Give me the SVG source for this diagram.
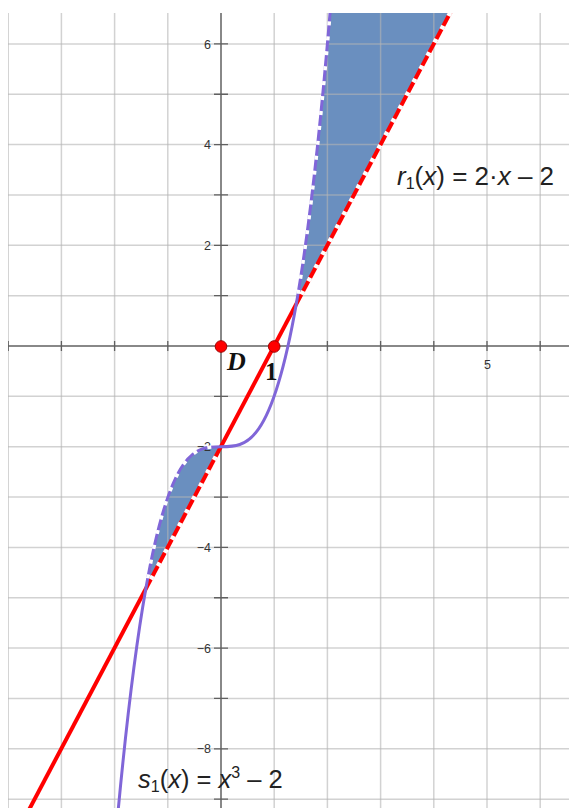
<svg xmlns="http://www.w3.org/2000/svg" width="569" height="808" viewBox="0 0 569 808">
<defs>
<clipPath id="plot"><rect x="8" y="13" width="561" height="795"/></clipPath>
<style>
.grid line{stroke:#b4b4b4;stroke-opacity:0.6;stroke-width:1.5}
.axis{stroke:#606060;stroke-width:1.5}
.tick{stroke:#606060;stroke-width:1.3}
.tl{font-family:"Liberation Sans",Arial,sans-serif;font-size:12.5px;fill:#333}
.fn{font-family:"Liberation Sans",Arial,sans-serif;fill:#222}
.it{font-style:italic}
.red{fill:none;stroke:#ff0000;stroke-width:4}
.pur{fill:none;stroke:#8066d8;stroke-width:3}
.wdash{fill:none;stroke:#ffffff;stroke-dasharray:4 11;stroke-dashoffset:4}
.area{fill:#6a8fbf}
.pt{fill:#ff0000;stroke:#a00000;stroke-width:1}
.pl{font-family:"Liberation Serif","Times New Roman",serif;font-weight:bold;fill:#111}
</style>
</defs>
<rect width="569" height="808" fill="#ffffff"/>
<g clip-path="url(#plot)">
<g id="regions">
<path class="area" d="M145.764,589.11 C170.843,446.7 195.921,446.7 221,446.7 Z"/>
<path class="area" d="M296.236,304.29 C307.688,239.26 319.140,144.53 330.592,6.55 L455.08,3.62 Z"/>
</g>
<g id="grid" class="grid">
<line x1="8.2" y1="13" x2="8.2" y2="808"/>
<line x1="61.4" y1="13" x2="61.4" y2="808"/>
<line x1="114.6" y1="13" x2="114.6" y2="808"/>
<line x1="167.8" y1="13" x2="167.8" y2="808"/>
<line x1="274.2" y1="13" x2="274.2" y2="808"/>
<line x1="327.4" y1="13" x2="327.4" y2="808"/>
<line x1="380.6" y1="13" x2="380.6" y2="808"/>
<line x1="433.8" y1="13" x2="433.8" y2="808"/>
<line x1="487" y1="13" x2="487" y2="808"/>
<line x1="540.2" y1="13" x2="540.2" y2="808"/>
<line x1="8" y1="43.9" x2="569" y2="43.9"/>
<line x1="8" y1="94.25" x2="569" y2="94.25"/>
<line x1="8" y1="144.6" x2="569" y2="144.6"/>
<line x1="8" y1="194.95" x2="569" y2="194.95"/>
<line x1="8" y1="245.3" x2="569" y2="245.3"/>
<line x1="8" y1="295.65" x2="569" y2="295.65"/>
<line x1="8" y1="396.35" x2="569" y2="396.35"/>
<line x1="8" y1="446.7" x2="569" y2="446.7"/>
<line x1="8" y1="497.05" x2="569" y2="497.05"/>
<line x1="8" y1="547.4" x2="569" y2="547.4"/>
<line x1="8" y1="597.75" x2="569" y2="597.75"/>
<line x1="8" y1="648.1" x2="569" y2="648.1"/>
<line x1="8" y1="698.45" x2="569" y2="698.45"/>
<line x1="8" y1="748.8" x2="569" y2="748.8"/>
<line x1="8" y1="799.15" x2="569" y2="799.15"/>
</g>
<g id="axes">
<line class="axis" x1="8" y1="346" x2="569" y2="346"/>
<line class="axis" x1="221" y1="13" x2="221" y2="808"/>
<path class="tick" d="M8.2,341V351M61.4,341V351M114.6,341V351M167.8,341V351M274.2,341V351M327.4,341V351M380.6,341V351M433.8,341V351M487,341V351M540.2,341V351"/>
<path class="tick" d="M214,43.9H228M214,94.25H228M214,144.6H228M214,194.95H228M214,245.3H228M214,295.65H228M214,396.35H228M214,446.7H228M214,497.05H228M214,547.4H228M214,597.75H228M214,648.1H228M214,698.45H228M214,748.8H228M214,799.15H228"/>
<g class="tl" text-anchor="end">
<text x="211" y="48.5">6</text>
<text x="211" y="149.2">4</text>
<text x="211" y="249.9">2</text>
<text x="211" y="451.3">−2</text>
<text x="211" y="552">−4</text>
<text x="211" y="652.7">−6</text>
<text x="211" y="753.4">−8</text>
<text x="491" y="369">5</text>
</g>
</g>
<g id="connectors">
<g id="line-r1">
<path class="red" d="M8,849.5 L455.08,3.62"/>
<path class="wdash" stroke-width="4.5" d="M145.764,589.11 L221,446.7"/>
<path class="wdash" stroke-width="4.5" d="M296.236,304.29 L455.08,3.62"/>
</g>
<g id="curve-s1">
<path class="pur" d="M117.792,814.33 C127.116,714.69 136.44,642.06 145.764,589.11 C170.843,446.7 195.921,446.7 221,446.7 C246.079,446.7 271.157,446.7 296.236,304.29 C307.688,239.26 319.140,144.53 330.592,6.55"/>
<path class="wdash" stroke-width="3.5" d="M145.764,589.11 C170.843,446.7 195.921,446.7 221,446.7"/>
<path class="wdash" stroke-width="3.5" d="M296.236,304.29 C307.688,239.26 319.140,144.53 330.592,6.55"/>
</g>
</g>
</g>
<g id="point-D">
<circle class="pt" cx="221" cy="346.5" r="5.8"/>
<text class="pl" font-style="italic" font-size="26" x="227" y="370">D</text>
</g>
<g id="point-1">
<circle class="pt" cx="274.2" cy="346.5" r="5.8"/>
<text class="pl" font-size="25" x="265" y="380">1</text>
</g>
<g id="label-r1">
<text class="fn" font-size="26" x="397" y="185"><tspan class="it">r</tspan><tspan font-size="16" dy="4">1</tspan><tspan dy="-4">(</tspan><tspan class="it">x</tspan>) = 2·<tspan class="it">x</tspan> – 2</text>
</g>
<g id="label-s1">
<text class="fn" font-size="25.5" x="138" y="788"><tspan class="it">s</tspan><tspan font-size="16" dy="4">1</tspan><tspan dy="-4">(</tspan><tspan class="it">x</tspan>) = <tspan class="it">x</tspan><tspan font-size="16" dy="-10">3</tspan><tspan dy="10"> – 2</tspan></text>
</g>
</svg>
